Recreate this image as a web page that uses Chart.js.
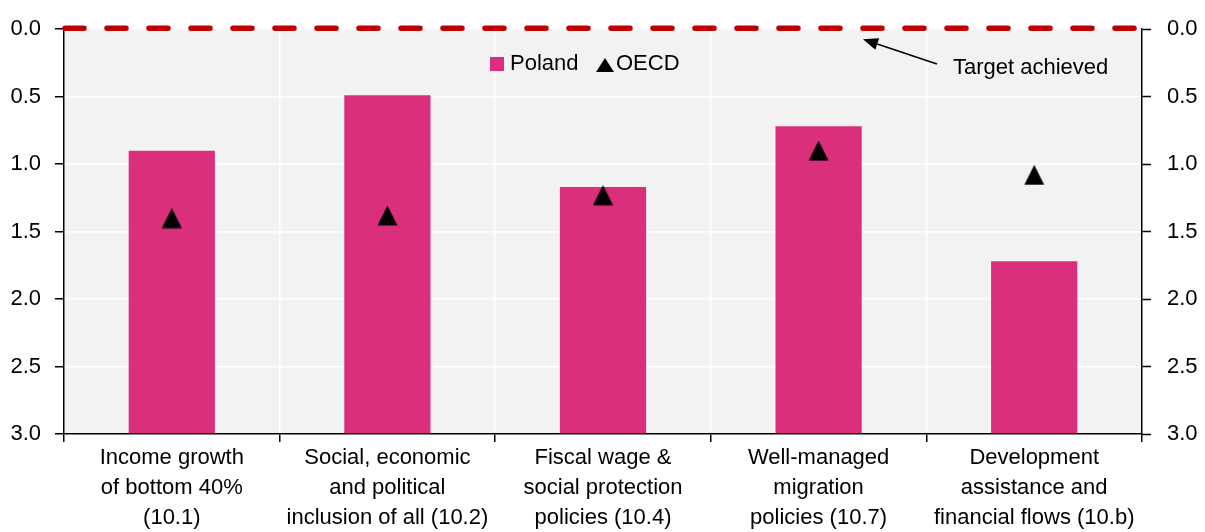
<!DOCTYPE html>
<html>
<head>
<meta charset="utf-8">
<script src="https://cdn.jsdelivr.net/npm/chart.js@4/dist/chart.umd.min.js"></script>
<style>
  html, body { margin: 0; padding: 0; background: #fff; }
  #wrap { width: 1205px; height: 532px; position: relative; }
</style>
</head>
<body>
<div id="wrap"><canvas id="c" width="1205" height="532"></canvas></div>
<script>
const categories = [
  ["Income growth", "of bottom 40%", "(10.1)"],
  ["Social, economic", "and political", "inclusion of all (10.2)"],
  ["Fiscal wage &", "social protection", "policies (10.4)"],
  ["Well-managed", "migration", "policies (10.7)"],
  ["Development", "assistance and", "financial flows (10.b)"]
];
const polandValues = [0.90, 0.49, 1.17, 0.72, 1.72];
const oecdValues = [1.40, 1.38, 1.23, 0.90, 1.08];
const yTickValues = [0, 0.5, 1.0, 1.5, 2.0, 2.5, 3.0];
const seriesNames = ["Poland", "OECD"];
const targetLabel = "Target achieved";
const targetValue = 0;
const axisMin = 0;
const axisMax = 3;

const FONT = '"Liberation Sans", Arial, sans-serif';
const FSIZE = 22;
const PINK = 'rgb(218,48,123)';

// triangle marker image (centred on the data value)
const tri = document.createElement('canvas');
tri.width = 21; tri.height = 21;
(function () {
  const g = tri.getContext('2d');
  g.fillStyle = '#000';
  g.beginPath();
  g.moveTo(10.5, 0.5);
  g.lineTo(20.5, 20.5);
  g.lineTo(0.5, 20.5);
  g.closePath();
  g.fill();
})();

const bgPlugin = {
  id: 'bg',
  beforeDraw(chart) {
    const a = chart.chartArea, ctx = chart.ctx;
    ctx.save();
    ctx.fillStyle = '#F2F2F2';
    ctx.fillRect(a.left, a.top, a.right - a.left, a.bottom - a.top);
    ctx.restore();
  }
};

const overlayPlugin = {
  id: 'overlay',
  afterDraw(chart) {
    const ctx = chart.ctx, a = chart.chartArea;
    const xs = chart.scales.x, ys = chart.scales.y;
    ctx.save();
    // target dashed line
    const yT = ys.getPixelForValue(targetValue) - 1;
    ctx.strokeStyle = '#C00000';
    ctx.lineWidth = 5.5;
    ctx.lineCap = 'round';
    ctx.setLineDash([19, 23]);
    ctx.beginPath();
    ctx.moveTo(a.left + 1, yT);
    ctx.lineTo(a.right - 6, yT);
    ctx.stroke();
    ctx.setLineDash([]);

    // arrow
    const tipX = xs.getPixelForValue(3.206), tipY = ys.getPixelForValue(0.074);
    const tailX = xs.getPixelForValue(3.549), tailY = ys.getPixelForValue(0.258);
    const ang = Math.atan2(tipY - tailY, tipX - tailX);
    const hl = 15, hw = 6;
    const bx = tipX - hl * Math.cos(ang), by = tipY - hl * Math.sin(ang);
    ctx.strokeStyle = '#000';
    ctx.fillStyle = '#000';
    ctx.lineWidth = 1.5;
    ctx.lineCap = 'butt';
    ctx.beginPath();
    ctx.moveTo(tailX, tailY);
    ctx.lineTo(bx, by);
    ctx.stroke();
    ctx.beginPath();
    ctx.moveTo(tipX, tipY);
    ctx.lineTo(bx + hw * Math.sin(ang), by - hw * Math.cos(ang));
    ctx.lineTo(bx - hw * Math.sin(ang), by + hw * Math.cos(ang));
    ctx.closePath();
    ctx.fill();

    // annotation text
    ctx.font = FSIZE + 'px ' + FONT;
    ctx.textBaseline = 'middle';
    ctx.textAlign = 'left';
    ctx.fillText(targetLabel, xs.getPixelForValue(3.623), ys.getPixelForValue(0.287));

    // legend
    const ly = 64;
    ctx.fillStyle = PINK;
    ctx.fillRect(490, ly - 7, 14, 14);
    ctx.fillStyle = '#000';
    ctx.fillText(seriesNames[0], 510, ly);
    ctx.beginPath();
    ctx.moveTo(605, ly - 6);
    ctx.lineTo(614, ly + 8);
    ctx.lineTo(596, ly + 8);
    ctx.closePath();
    ctx.fill();
    ctx.fillText(seriesNames[1], 616, ly);
    ctx.restore();
  }
};

const yCommon = {
  reverse: true,
  min: axisMin,
  max: axisMax,
  afterBuildTicks(s) { s.ticks = yTickValues.map(v => ({ value: v })); },
  ticks: {
    color: '#000',
    font: { family: FONT, size: FSIZE },
    callback: v => Number(v).toFixed(1)
  },
  border: { display: true, color: '#000', width: 1.5 }
};

new Chart(document.getElementById('c'), {
  data: {
    labels: categories,
    datasets: [
      {
        type: 'bar',
        label: seriesNames[0],
        data: polandValues,
        base: axisMax,
        backgroundColor: PINK,
        borderWidth: 0,
        barPercentage: 0.4,
        categoryPercentage: 1.0,
        order: 2
      },
      {
        type: 'line',
        label: seriesNames[1],
        data: oecdValues,
        showLine: false,
        pointStyle: tri,
        borderColor: '#000',
        backgroundColor: '#000',
        order: 1
      }
    ]
  },
  options: {
    responsive: false,
    animation: false,
    devicePixelRatio: 1,
    layout: { padding: { top: 27, left: 0, right: 0, bottom: 0 } },
    plugins: { legend: { display: false }, tooltip: { enabled: false } },
    scales: {
      x: {
        type: 'category',
        offset: true,
        grid: { offset: true, color: '#fff', lineWidth: 1.5, tickColor: '#000', tickLength: 8, tickWidth: 1.5 },
        border: { display: true, color: '#000', width: 1.5 },
        ticks: {
          color: '#000',
          font: { family: FONT, size: FSIZE, lineHeight: 30 / FSIZE },
          padding: 1,
          maxRotation: 0,
          autoSkip: false
        },
        afterFit(s) { s.height = 98; }
      },
      y: Object.assign({}, yCommon, {
        position: 'left',
        grid: { color: '#fff', lineWidth: 1.5, tickColor: '#000', tickLength: 9, tickWidth: 1.5 },
        ticks: Object.assign({}, yCommon.ticks, { padding: 14 }),
        afterFit(s) { s.width = 64; }
      }),
      y2: Object.assign({}, yCommon, {
        position: 'right',
        grid: { drawOnChartArea: false, color: '#000', tickColor: '#000', tickLength: 9, tickWidth: 1.5 },
        ticks: Object.assign({}, yCommon.ticks, { padding: 16 }),
        afterFit(s) { s.width = 63; }
      })
    }
  },
  plugins: [bgPlugin, overlayPlugin]
});
</script>
</body>
</html>
